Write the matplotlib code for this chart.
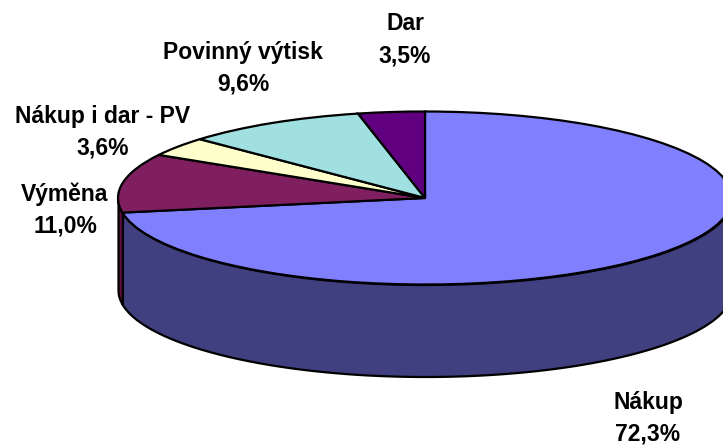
import numpy as np
import matplotlib
matplotlib.use("Agg")
import matplotlib.pyplot as plt

# ---- Data ----
labels = ["Nákup", "Výměna", "Nákup i dar - PV", "Povinný výtisk", "Dar"]
values = [72.3, 11.0, 3.6, 9.6, 3.5]
pct_text = ["72,3%", "11,0%", "3,6%", "9,6%", "3,5%"]
colors = ["#8080FF", "#7F1F5F", "#FFFFCC", "#A0E0E0", "#600080"]
side_colors = ["#404080", "#5F0F3F"]

W, H = 723, 447
cx, cy = 425, 198
rx, ry = 307, 86.5
depth = 92
lw = 1.6

plt.rcParams["font.family"] = ["Liberation Sans", "DejaVu Sans"]

fig = plt.figure(figsize=(W / 100, H / 100), dpi=100)
ax = fig.add_axes([0, 0, 1, 1])

# ---- Top of the pie ----
wedges, _ = ax.pie(values, colors=colors, startangle=90, counterclock=False,
                   center=(cx, cy), radius=rx,
                   wedgeprops=dict(edgecolor="black", linewidth=lw))

# squash the pie into an ellipse
ax.set_aspect("auto")
ax.set_xlim(0, W)
ax.set_ylim(cy + (cy - H) * rx / ry, cy + cy * rx / ry)
ax.set_axis_off()
for w in wedges:
    w.set_zorder(3)

# ---- Side wall, only the front half shows ----
k = rx / ry  # data units per pixel in y
edge = 360 * values[0] / sum(values)   # clockwise from top
t_main = np.radians(np.linspace(90, edge, 200))
t_left = np.radians(np.linspace(edge, 270, 30))
for t, c in zip([t_main, t_left], side_colors):
    x = cx + rx * np.sin(t)
    top = cy + rx * np.cos(t)
    ax.fill_between(x, top, top - depth * k, facecolor=c, edgecolor="black",
                    linewidth=lw, zorder=2)

# ---- Labels ----
label_pos = {
    "Nákup": (648, 402),
    "Výměna": (65, 194),
    "Nákup i dar - PV": (103, 116),
    "Povinný výtisk": (243, 52),
    "Dar": (405, 24),
}
for name, pct in zip(labels, pct_text):
    px, py = label_pos[name]
    ax.text(px, cy + (cy - py) * k, name, ha="center", va="center", fontsize=16.5,
            fontweight="bold", color="black")
    ax.text(px, cy + (cy - py - 32) * k, pct, ha="center", va="center", fontsize=16.5,
            fontweight="bold", color="black")

fig.savefig("out.png", dpi=100, facecolor="white")
